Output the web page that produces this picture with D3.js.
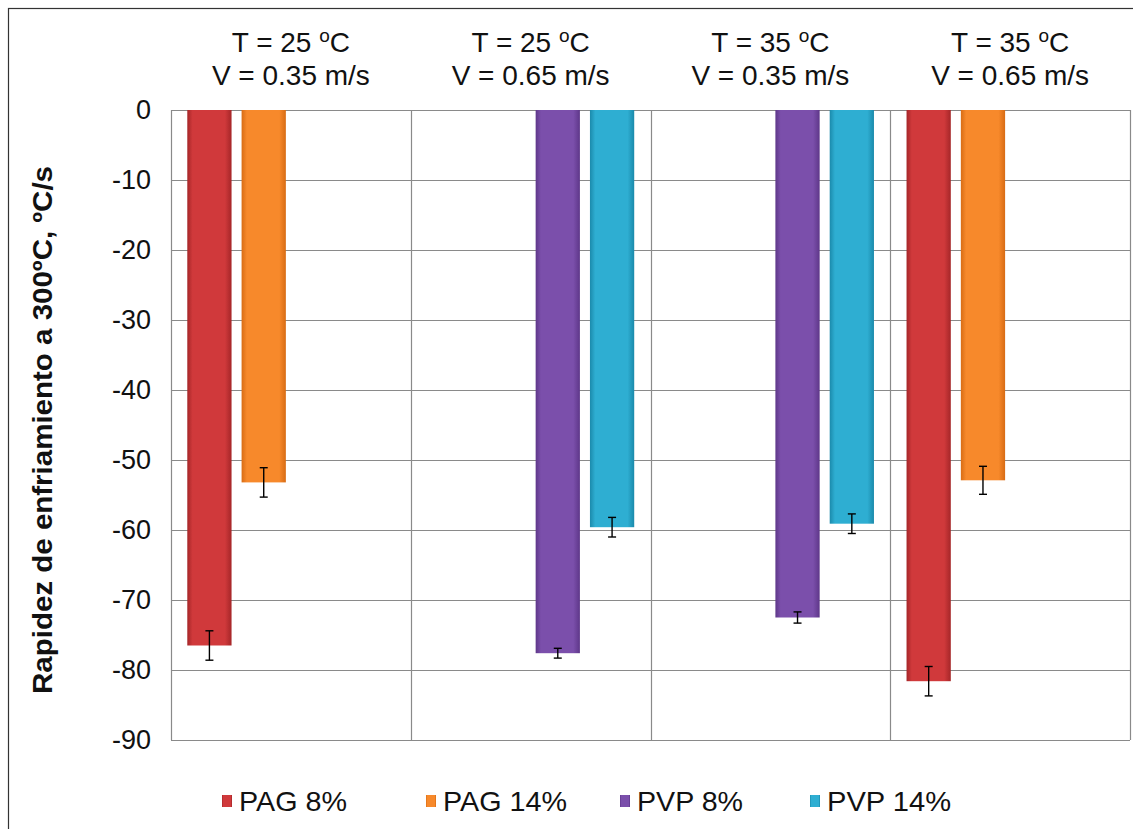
<!DOCTYPE html>
<html>
<head>
  <title>Rapidez de enfriamiento</title>
  <script src="https://d3js.org/d3.v7.min.js"></script>
  <style>
    body { margin: 0; background: #fff; }
    text { font-family: "Liberation Sans", Arial, sans-serif; }
  </style>
</head>
<body>
  <div id="chart"></div>

  <script>
    // conditions (groups), series and values
    const groups = ["g1", "g2", "g3", "g4"];
    const groupTemp = ["25", "25", "35", "35"];
    const groupVel = ["0.35", "0.65", "0.35", "0.65"];
    const series = ["PAG 8%", "PAG 14%", "PVP 8%", "PVP 14%"];
    const colors = ["#d0393b", "#f7892b", "#7b4fab", "#2eaed2"];
    const darkColors = ["#a52628", "#d86c14", "#5e3789", "#1b8aab"];
    // null = no bar for that series in that group
    const values = [
      [-76.5, -53.2, null, null],
      [null, null, -77.6, -59.6],
      [null, null, -72.5, -59.1],
      [-81.6, -52.9, null, null]
    ];
    const errors = [
      [2.1, 2.1, null, null],
      [null, null, 0.7, 1.4],
      [null, null, 0.8, 1.4],
      [2.1, 2.0, null, null]
    ];
    const yTicks = [0, -10, -20, -30, -40, -50, -60, -70, -80, -90];

    const width = 1133;
    const height = 829;
    const margin = { top: 110, right: 3, bottom: 89, left: 171 };

    const svg = d3.select("#chart")
      .append("svg")
      .attr("width", width)
      .attr("height", height);

    // outer frame
    svg.append("rect")
      .attr("x", 8.5).attr("y", 8.5)
      .attr("width", width + 10).attr("height", height + 10)
      .attr("fill", "none")
      .attr("stroke", "#333")
      .attr("stroke-width", 1.2);

    const defs = svg.append("defs");
    series.forEach((s, i) => {
      const g = defs.append("linearGradient")
        .attr("id", "grad" + i)
        .attr("x1", "0%").attr("x2", "100%")
        .attr("y1", "0%").attr("y2", "0%");
      g.append("stop").attr("offset", "0%").attr("stop-color", darkColors[i]);
      g.append("stop").attr("offset", "12%").attr("stop-color", colors[i]);
      g.append("stop").attr("offset", "85%").attr("stop-color", colors[i]);
      g.append("stop").attr("offset", "100%").attr("stop-color", darkColors[i]);
    });

    const x0 = d3.scaleBand()
      .domain(groups)
      .range([margin.left, width - margin.right]);

    const x1 = d3.scaleBand()
      .domain(series)
      .range([0, x0.bandwidth()])
      .paddingInner(0.185)
      .paddingOuter(0.3);

    const y = d3.scaleLinear()
      .domain([-90, 0])
      .range([height - margin.bottom, margin.top]);

    // grid
    svg.append("g")
      .selectAll("line")
      .data(yTicks)
      .join("line")
      .attr("x1", margin.left)
      .attr("x2", width - margin.right)
      .attr("y1", d => Math.round(y(d)) + 0.5)
      .attr("y2", d => Math.round(y(d)) + 0.5)
      .attr("stroke", "#8a8a8a")
      .attr("stroke-width", 1.2);

    // group dividers + plot border
    const xEdges = groups.map(g => x0(g)).concat([width - margin.right]);
    svg.append("g")
      .selectAll("line")
      .data(xEdges)
      .join("line")
      .attr("x1", d => Math.round(d) + 0.5)
      .attr("x2", d => Math.round(d) + 0.5)
      .attr("y1", y(0))
      .attr("y2", y(-90))
      .attr("stroke", "#8a8a8a")
      .attr("stroke-width", 1.2);

    // y axis labels
    const yAxis = d3.axisLeft(y)
      .tickValues(yTicks)
      .tickFormat(d => String(d))
      .tickSize(0)
      .tickPadding(20);
    const ya = svg.append("g")
      .attr("transform", `translate(${margin.left}, 0)`)
      .call(yAxis);
    ya.select(".domain").remove();
    ya.selectAll("text")
      .attr("font-size", 27)
      .attr("font-family", "'Liberation Sans', Arial, sans-serif")
      .attr("fill", "#111");

    // y title
    svg.append("text")
      .attr("transform", `translate(52, ${(y(0) + y(-90)) / 2 + 5}) rotate(-90)`)
      .attr("text-anchor", "middle")
      .attr("font-size", 27)
      .attr("font-weight", "bold")
      .attr("fill", "#111")
      .attr("textLength", 528)
      .attr("lengthAdjust", "spacingAndGlyphs")
      .text("Rapidez de enfriamiento a 300ºC,  ºC/s");

    // group headers
    const heads = svg.append("g")
      .selectAll("g")
      .data(groups)
      .join("g")
      .attr("transform", d => `translate(${x0(d) + x0.bandwidth() / 2}, 0)`);

    heads.append("text")
      .attr("y", 52)
      .attr("text-anchor", "middle")
      .attr("font-size", 28)
      .attr("fill", "#111")
      .each(function(d, i) {
        const t = d3.select(this);
        t.append("tspan").text(`T = ${groupTemp[i]} `);
        t.append("tspan").attr("dy", -10).attr("font-size", 19).text("o");
        t.append("tspan").attr("dy", 10).text("C");
      });

    heads.append("text")
      .attr("y", 85)
      .attr("text-anchor", "middle")
      .attr("font-size", 28)
      .attr("fill", "#111")
      .text((d, i) => `V = ${groupVel[i]} m/s`);

    // bars
    const barData = [];
    groups.forEach((g, gi) => {
      series.forEach((s, si) => {
        if (values[gi][si] !== null) {
          barData.push({ g, s, si, v: values[gi][si], e: errors[gi][si] });
        }
      });
    });

    svg.append("g")
      .selectAll("rect")
      .data(barData)
      .join("rect")
      .attr("x", d => x0(d.g) + x1(d.s))
      .attr("width", x1.bandwidth())
      .attr("y", y(0))
      .attr("height", d => y(d.v) - y(0))
      .attr("fill", d => `url(#grad${d.si})`);

    // error bars
    const eb = svg.append("g")
      .attr("stroke", "#000")
      .attr("stroke-width", 1.4)
      .selectAll("g")
      .data(barData)
      .join("g")
      .attr("transform", d => `translate(${x0(d.g) + x1(d.s) + x1.bandwidth() / 2}, 0)`);
    eb.append("line")
      .attr("y1", d => y(d.v + d.e)).attr("y2", d => y(d.v - d.e));
    eb.append("line")
      .attr("x1", -4).attr("x2", 4)
      .attr("y1", d => y(d.v + d.e)).attr("y2", d => y(d.v + d.e));
    eb.append("line")
      .attr("x1", -4).attr("x2", 4)
      .attr("y1", d => y(d.v - d.e)).attr("y2", d => y(d.v - d.e));

    // legend
    const legendX = [222, 426, 620, 810];
    const legend = svg.append("g")
      .selectAll("g")
      .data(series)
      .join("g")
      .attr("transform", (d, i) => `translate(${legendX[i]}, 801)`);
    legend.append("rect")
      .attr("x", 0).attr("y", -6)
      .attr("width", 10).attr("height", 12)
      .attr("fill", (d, i) => `url(#grad${i})`);
    legend.append("text")
      .attr("x", 17)
      .attr("y", 10)
      .attr("font-size", 28)
      .attr("fill", "#111")
      .attr("textLength", (d, i) => [108, 124, 106, 124][i])
      .attr("lengthAdjust", "spacingAndGlyphs")
      .text(d => d);
  </script>
</body>
</html>
